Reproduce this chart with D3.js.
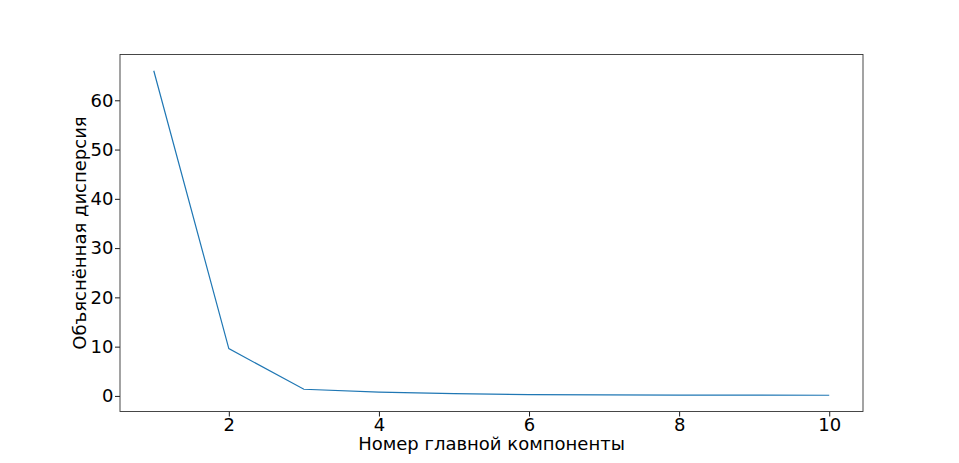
<!DOCTYPE html>
<html>
<head>
<meta charset="utf-8">
<script src="https://cdn.jsdelivr.net/npm/d3@7"></script>
<style>
  body { margin: 0; background: #fff; }
  text { font-family: "DejaVu Sans", sans-serif; }
</style>
</head>
<body>
<svg id="chart" width="959" height="463"></svg>
<script>
const components = [1, 2, 3, 4, 5, 6, 7, 8, 9, 10];
const explained = [66.0, 9.6, 1.35, 0.75, 0.45, 0.28, 0.22, 0.18, 0.15, 0.13];
const xTicks = [2, 4, 6, 8, 10];
const yTicks = [0, 10, 20, 30, 40, 50, 60];
const xTitle = "Номер главной компоненты";
const yTitle = "Объяснённая дисперсия";

const width = 959, height = 463;
const margin = {top: 54.5, right: 96, bottom: 51.5, left: 120};
const svg = d3.select('#chart');

// matplotlib style 5% padding
const xPad = (10 - 1) * 0.05;
const yMin = d3.min(explained), yMax = d3.max(explained);
const yPad = (yMax - yMin) * 0.05;

const x = d3.scaleLinear([1 - xPad, 10 + xPad], [margin.left, width - margin.right]);
const y = d3.scaleLinear([yMin - yPad, yMax + yPad], [height - margin.bottom, margin.top]);

const xAxis = g => g
  .attr('transform', `translate(0,${height - margin.bottom})`)
  .call(d3.axisBottom(x).tickValues(xTicks).tickSize(5).tickPadding(2).tickFormat(d3.format('d')));

const yAxis = g => g
  .attr('transform', `translate(${margin.left},0)`)
  .call(d3.axisLeft(y).tickValues(yTicks).tickSize(5).tickPadding(1.5).tickFormat(d3.format('d')));

svg.append('g').call(xAxis).call(g => g.select('.domain').remove());
svg.append('g').call(yAxis).call(g => g.select('.domain').remove());

svg.selectAll('.tick text')
  .attr('font-family', '"DejaVu Sans", sans-serif')
  .attr('font-size', '18px')
  .attr('fill', '#000');
svg.selectAll('.tick line').attr('stroke', '#000').attr('stroke-width', 0.9);

svg.append('path')
  .datum(explained)
  .attr('fill', 'none')
  .attr('stroke', '#1f77b4')
  .attr('stroke-width', 1.2)
  .attr('d', d3.line()
    .x((d, i) => x(components[i]))
    .y(d => y(d)));

// frame
svg.append('rect')
  .attr('x', margin.left)
  .attr('y', margin.top)
  .attr('width', width - margin.left - margin.right)
  .attr('height', height - margin.top - margin.bottom)
  .attr('fill', 'none')
  .attr('stroke', '#333')
  .attr('stroke-width', 0.9);

svg.append('text')
  .attr('x', (margin.left + width - margin.right) / 2)
  .attr('y', 450)
  .attr('text-anchor', 'middle')
  .attr('font-size', '18px')
  .text(xTitle);

svg.append('text')
  .attr('transform', `translate(86,${(margin.top + height - margin.bottom) / 2}) rotate(-90)`)
  .attr('text-anchor', 'middle')
  .attr('font-size', '18px')
  .text(yTitle);
</script>
</body>
</html>
